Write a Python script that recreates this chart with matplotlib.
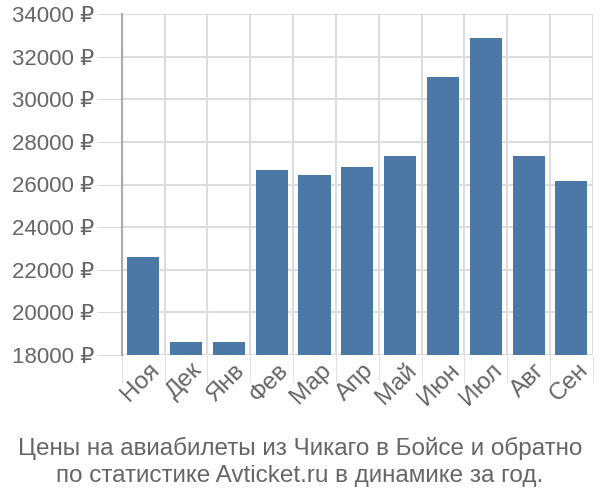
import matplotlib
matplotlib.use("Agg")
import matplotlib.pyplot as plt
import numpy as np

months = ["Ноя", "Дек", "Янв", "Фев", "Мар", "Апр", "Май", "Июн", "Июл", "Авг", "Сен"]
prices = [22600, 18610, 18610, 26700, 26450, 26830, 27360, 31050, 32880, 27360, 26170]
yticks = list(range(18000, 34001, 2000))
title = "Цены на авиабилеты из Чикаго в Бойсе и обратно\nпо статистике Avticket.ru в динамике за год."

plt.rcParams['font.family'] = ['Liberation Sans', 'DejaVu Sans']
grey = "#666666"
grid = "#dddddd"

fig = plt.figure(figsize=(6, 5), dpi=100)
ax = fig.add_axes([0.203, 0.29, 0.785, 0.682])

x = np.arange(len(months))
ax.bar(x, [p - 18000 for p in prices], bottom=18000, width=0.75, color="#4c78a8", zorder=3)

ax.set_xlim(-0.5, len(months) - 0.5)
ax.set_ylim(18000, 34000)
ax.set_yticks(yticks)
ax.set_yticklabels([f"{v} ₽" for v in yticks])
ax.set_xticks(x + 0.12)
ax.set_xticklabels(months, rotation=45, ha="right", rotation_mode="anchor")
ax.set_xticks(np.arange(-0.5, len(months), 1), minor=True)

ax.tick_params(axis="y", length=18, color=grid, labelsize=16, labelcolor=grey, pad=2)
ax.tick_params(axis="x", which="major", length=0, labelsize=17.5, labelcolor=grey, pad=3)
ax.tick_params(axis="x", which="minor", length=20, color=grid)
ax.grid(axis="y", color=grid, linewidth=1.5, zorder=0)
ax.grid(axis="x", which="minor", color=grid, linewidth=1.5, zorder=0)

for s in ["top", "right", "bottom"]:
    ax.spines[s].set_visible(False)
ax.spines["left"].set_color("#aaaaaa")
ax.spines["left"].set_linewidth(1.5)

fig.text(0.5, 0.077, title, ha="center", va="center", fontsize=17.5, color=grey, linespacing=1.3)

fig.savefig("out.png", dpi=100)
